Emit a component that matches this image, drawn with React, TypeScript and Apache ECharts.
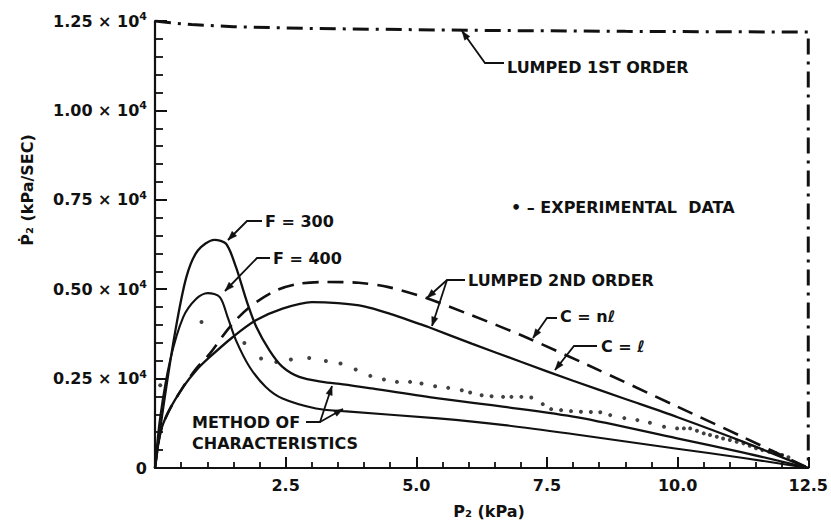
import React, { useEffect, useRef } from 'react';
import * as echarts from 'echarts';

// ---- data (x: P2 in kPa, y: dP2/dt in kPa/SEC) ----
const xTickValues = [0, 2.5, 5.0, 7.5, 10.0, 12.5];
const yTickValues = [0, 2500, 5000, 7500, 10000, 12500];

const lumped1st = [
  [0, 12500], [0.3, 12450], [0.7, 12400], [1.5, 12340], [3, 12290], [6, 12240],
  [9, 12210], [12.5, 12190], [12.5, 0],
];

const mocF300 = [
  [0, 0], [0.16, 1710], [0.38, 3758], [0.6, 5337], [0.82, 6082], [1.14, 6381],
  [1.36, 6269], [1.55, 5616], [1.75, 4687], [1.94, 3942], [2.19, 3292], [2.44, 2826],
  [2.76, 2547], [3.2, 2408], [3.6, 2340], [4.15, 2224], [5.42, 1945], [6.69, 1710],
  [8.09, 1415], [9.99, 830], [11.26, 430], [12.5, 0],
];

const mocF400 = [
  [0, 0], [0.1, 1432], [0.29, 3013], [0.54, 4221], [0.79, 4735], [1.01, 4891],
  [1.24, 4779], [1.39, 4221], [1.55, 3571], [1.81, 2826], [2.12, 2268], [2.44, 1945],
  [3.08, 1666], [3.6, 1590], [5.42, 1387], [6.69, 1200], [8.09, 930], [9.99, 540],
  [11.26, 280], [12.5, 0],
];

const lumped2ndCl = [
  [0, 0], [0.1, 970], [0.25, 1550], [0.54, 2268], [0.8, 2750], [1.05, 3105],
  [1.49, 3663], [1.93, 4129], [2.44, 4456], [3.0, 4640], [3.5, 4610], [4.0, 4520],
  [4.5, 4310], [5.0, 4060], [5.23, 3942], [6.06, 3479], [7.0, 2970], [8.0, 2440],
  [9.0, 1930], [10.0, 1420], [11.26, 730], [12.5, 0],
];

const lumped2ndCnl = [
  [0, 0], [0.1, 970], [0.25, 1550], [0.54, 2268], [0.8, 2800], [1.05, 3200],
  [1.43, 3942], [1.81, 4500], [2.32, 4966], [2.76, 5153], [3.3, 5200], [3.9, 5180],
  [4.47, 5058], [5.17, 4762], [6.06, 4269], [7.01, 3711], [8.28, 2880], [9.99, 1720],
  [11.26, 860], [12.5, 0],
];

const experimental = [
  [0.1, 2316], [0.89, 4082], [1.71, 3497], [2.03, 3060], [2.32, 2966], [2.6, 3032],
  [2.95, 3077], [3.27, 2994], [3.55, 2920], [3.84, 2753], [4.12, 2576], [4.38, 2474],
  [4.63, 2408], [4.88, 2408], [5.1, 2362], [5.36, 2288], [5.61, 2241], [5.87, 2176],
  [6.03, 2111], [6.25, 2037], [6.44, 2009], [6.66, 1989], [6.82, 1989], [7.01, 1989],
  [7.2, 1972], [7.42, 1786], [7.58, 1646], [7.77, 1618], [7.96, 1590], [8.15, 1571],
  [8.34, 1565], [8.52, 1560], [8.71, 1479], [8.98, 1395], [9.23, 1339], [9.47, 1264],
  [9.74, 1152], [9.99, 1108], [10.12, 1108], [10.24, 1108], [10.37, 1040], [10.5, 968],
  [10.62, 920], [10.75, 873], [10.87, 827], [11.0, 781], [11.13, 735], [11.26, 689],
  [11.38, 620], [11.5, 550], [11.62, 500], [11.75, 455], [11.88, 410], [12.0, 363],
  [12.12, 300],
];

// ---- annotation texts ----
const FONT = 'DejaVu Sans';
const INK = '#111';

const annotations = [
  { text: 'LUMPED 1ST ORDER', x: 507, y: 67 },
  { text: '• – EXPERIMENTAL  DATA', x: 511, y: 207 },
  { text: 'F = 300', x: 265, y: 221 },
  { text: 'F = 400', x: 273, y: 258 },
  { text: 'LUMPED 2ND ORDER', x: 468, y: 280 },
  { text: 'C = nℓ', x: 560, y: 316 },
  { text: 'C = ℓ', x: 601, y: 346 },
  { text: 'METHOD OF', x: 192, y: 422 },
  { text: 'CHARACTERISTICS', x: 192, y: 443 },
];

// leader lines: first point is the arrow tip
const leaders = [
  [[462, 31], [485, 63], [504, 63]],
  [[228, 240], [247, 221], [262, 221]],
  [[225, 291], [257, 258], [270, 258]],
  [[427, 298], [447, 280], [465, 280]],
  [[432, 326], [447, 280]],
  [[533, 338], [547, 318], [557, 318]],
  [[555, 370], [574, 346], [597, 346]],
  [[332, 386], [320, 422], [306, 422]],
  [[343, 409], [320, 422]],
];

function arrowHead(tip: number[], from: number[], len = 9, w = 3.2) {
  const dx = tip[0] - from[0];
  const dy = tip[1] - from[1];
  const d = Math.hypot(dx, dy) || 1;
  const ux = dx / d, uy = dy / d;
  const bx = tip[0] - ux * len, by = tip[1] - uy * len;
  return [tip, [bx - uy * w, by + ux * w], [bx + uy * w, by - ux * w]];
}

export default function App() {
  const ref = useRef<HTMLDivElement>(null);
  useEffect(() => {
    if (!ref.current) return;
    const chart = echarts.init(ref.current, undefined, { renderer: 'svg' });

    const graphics: any[] = [];
    annotations.forEach((a) => {
      graphics.push({
        type: 'text', x: a.x, y: a.y, z: 10,
        style: { text: a.text, fill: INK, font: `bold 16px "${FONT}"`, verticalAlign: 'middle', align: 'left' },
      });
    });
    leaders.forEach((pts) => {
      graphics.push({
        type: 'polyline', z: 10,
        shape: { points: pts },
        style: { stroke: INK, lineWidth: 1.8, fill: null },
      });
      graphics.push({
        type: 'polygon', z: 10,
        shape: { points: arrowHead(pts[0], pts[1]) },
        style: { fill: INK, stroke: INK, lineWidth: 0.5 },
      });
    });
    graphics.push({
      type: 'text', x: 27, y: 190, rotation: Math.PI / 2, z: 10,
      style: { text: 'Ṗ₂ (kPa/SEC)', fill: INK, font: `bold 16px "${FONT}"`, align: 'center', verticalAlign: 'middle' },
    });
    graphics.push({
      type: 'text', x: 489, y: 511, z: 10,
      style: { text: 'P₂ (kPa)', fill: INK, font: `bold 16px "${FONT}"`, align: 'center', verticalAlign: 'middle' },
    });

    const solid = (w: number) => ({ color: INK, width: w, type: 'solid' as const });

    chart.setOption({
      animation: false,
      backgroundColor: '#fff',
      textStyle: { fontFamily: FONT },
      grid: { left: 155, right: 19, top: 21, bottom: 53 },
      xAxis: {
        type: 'value', min: 0, max: 12.5, interval: 2.5,
        axisLine: { lineStyle: { color: INK, width: 2.2 } },
        axisTick: { inside: true, length: 11, lineStyle: { color: INK, width: 2 } },
        minorTick: { show: true, splitNumber: 5, length: 6, lineStyle: { color: INK, width: 1.8 } },
        splitLine: { show: false },
        axisLabel: {
          color: INK, fontSize: 16, fontWeight: 'bold', fontFamily: FONT, margin: 9,
          formatter: (v: number) => (v === 0 ? '' : xTickValues.includes(v) ? v.toFixed(1) : ''),
        },
      },
      yAxis: {
        type: 'value', min: 0, max: 12500, interval: 2500,
        axisLine: { lineStyle: { color: INK, width: 2.2 } },
        axisTick: { inside: true, length: 12, lineStyle: { color: INK, width: 2 } },
        minorTick: { show: true, splitNumber: 5, length: 8, lineStyle: { color: INK, width: 1.8 } },
        splitLine: { show: false },
        axisLabel: {
          margin: 8,
          formatter: (v: number) => {
            if (!yTickValues.includes(v)) return '';
            if (v === 0) return '{b|0}';
            return `{b|${(v / 10000).toFixed(2)} × 10}{s|4}`;
          },
          rich: {
            b: { fontSize: 16, fontWeight: 'bold', fontFamily: FONT, color: INK, lineHeight: 20 },
            s: { fontSize: 11, fontWeight: 'bold', fontFamily: FONT, color: INK, verticalAlign: 'top', lineHeight: 12 },
          },
        },
      },
      series: [
        {
          name: 'Lumped 1st order', type: 'line', data: lumped1st, symbol: 'none', smooth: false,
          lineStyle: { color: INK, width: 3, type: [16, 7, 3, 7] },
        },
        {
          name: 'Lumped 2nd order C = nℓ', type: 'line', data: lumped2ndCnl, symbol: 'none', smooth: 0.3,
          lineStyle: { color: INK, width: 2.6, type: [16, 9] },
        },
        {
          name: 'Lumped 2nd order C = ℓ', type: 'line', data: lumped2ndCl, symbol: 'none', smooth: 0.3,
          lineStyle: solid(2.3),
        },
        {
          name: 'MOC F = 300', type: 'line', data: mocF300, symbol: 'none', smooth: 0.3,
          lineStyle: solid(2.3),
        },
        {
          name: 'MOC F = 400', type: 'line', data: mocF400, symbol: 'none', smooth: 0.3,
          lineStyle: solid(2.1),
        },
        {
          name: 'Experimental data', type: 'scatter', data: experimental, symbol: 'circle', symbolSize: 4,
          itemStyle: { color: INK },
        },
      ],
      graphic: graphics,
    });
    return () => chart.dispose();
  }, []);
  return (
    <div
      ref={ref}
      style={{ position: 'fixed', left: 0, top: 0, width: 831, height: 521, background: '#fff' }}
    />
  );
}
